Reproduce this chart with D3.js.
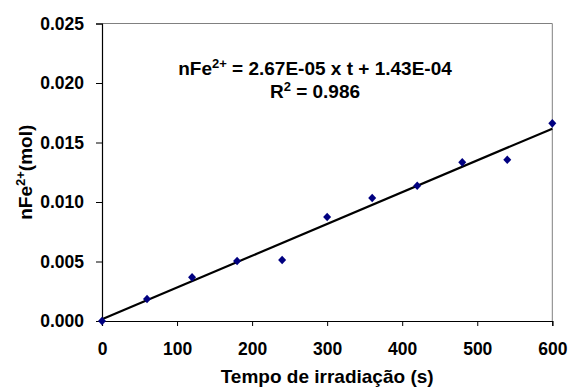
<!DOCTYPE html>
<html>
<head>
<meta charset="utf-8">
<script src="https://cdn.jsdelivr.net/npm/d3@7"></script>
<style>
  body { margin: 0; background: #fff; }
  text { font-family: "Liberation Sans", Arial, sans-serif; font-weight: bold; }
</style>
</head>
<body>
<svg id="chart"></svg>
<script>
// irradiation time (s) and moles of Fe2+
const times = [0, 60, 120, 180, 240, 300, 360, 420, 480, 540, 600];
const nFe = [0.0000, 0.00185, 0.00367, 0.00504, 0.00513, 0.00874, 0.01034, 0.01137, 0.01333, 0.01355, 0.01661];
const slope = 2.67e-5;
const intercept = 1.43e-4;
const xTicks = [0, 100, 200, 300, 400, 500, 600];
const yTicks = [0, 0.005, 0.010, 0.015, 0.020, 0.025];

const width = 569, height = 390;
const margin = {top: 23.5, right: 16.7, bottom: 69, left: 102};

const svg = d3.select("#chart")
    .attr("width", width)
    .attr("height", height);

svg.append("rect").attr("width", width).attr("height", height).attr("fill", "#fff");

const x = d3.scaleLinear().domain([0, 600]).range([margin.left, width - margin.right]);
const y = d3.scaleLinear().domain([0, 0.025]).range([height - margin.bottom, margin.top]);

// plot area frame (top/right in gray)
svg.append("path")
    .attr("d", `M${x(0)},${y(0.025)}H${x(600)}V${y(0)}`)
    .attr("fill", "none")
    .attr("stroke", "#808080")
    .attr("stroke-width", 1);

const xAxis = svg.append("g")
    .attr("transform", `translate(0,${y(0)})`)
    .call(d3.axisBottom(x).tickValues(xTicks).tickSize(5).tickPadding(17).tickFormat(d3.format("d")));

const yAxis = svg.append("g")
    .attr("transform", `translate(${x(0)},0)`)
    .call(d3.axisLeft(y).tickValues(yTicks).tickSize(6).tickPadding(12).tickFormat(d3.format(".3f")));

[xAxis, yAxis].forEach(g => {
  g.select(".domain").attr("stroke", "#000").attr("stroke-width", 1.2);
  g.selectAll(".tick line").attr("stroke", "#000");
  g.selectAll(".tick text")
      .attr("fill", "#000")
      .attr("font-size", 17.5)
      .attr("font-family", "Liberation Sans, Arial, sans-serif")
      .attr("font-weight", "bold");
});

// trend line
svg.append("line")
    .attr("x1", x(0)).attr("y1", y(intercept))
    .attr("x2", x(600)).attr("y2", y(slope * 600 + intercept))
    .attr("stroke", "#000")
    .attr("stroke-width", 2.2);

// data markers
svg.append("g")
  .selectAll("path")
  .data(times)
  .join("path")
    .attr("transform", (d, i) => `translate(${x(d)},${y(nFe[i])})`)
    .attr("d", "M0,-4.3L4,0L0,4.3L-4,0Z")
    .attr("fill", "#000080");

// equation
const eq = svg.append("text")
    .attr("x", 315).attr("y", 75)
    .attr("text-anchor", "middle")
    .attr("font-size", 19);
eq.append("tspan").text("nFe");
eq.append("tspan").attr("dy", -7).attr("font-size", 13).text("2+");
eq.append("tspan").attr("dy", 7).text(" = 2.67E-05 x t + 1.43E-04");

const r2 = svg.append("text")
    .attr("x", 315).attr("y", 98)
    .attr("text-anchor", "middle")
    .attr("font-size", 19);
r2.append("tspan").text("R");
r2.append("tspan").attr("dy", -7).attr("font-size", 13).text("2");
r2.append("tspan").attr("dy", 7).text(" = 0.986");

// axis titles
svg.append("text")
    .attr("x", x(300)).attr("y", 383)
    .attr("text-anchor", "middle")
    .attr("font-size", 19)
    .text("Tempo de irradiação (s)");

const yt = svg.append("text")
    .attr("transform", `translate(32,${(y(0) + y(0.025)) / 2}) rotate(-90)`)
    .attr("text-anchor", "middle")
    .attr("font-size", 19);
yt.append("tspan").text("nFe");
yt.append("tspan").attr("dy", -7).attr("font-size", 13).text("2+");
yt.append("tspan").attr("dy", 7).text("(mol)");
</script>
</body>
</html>
